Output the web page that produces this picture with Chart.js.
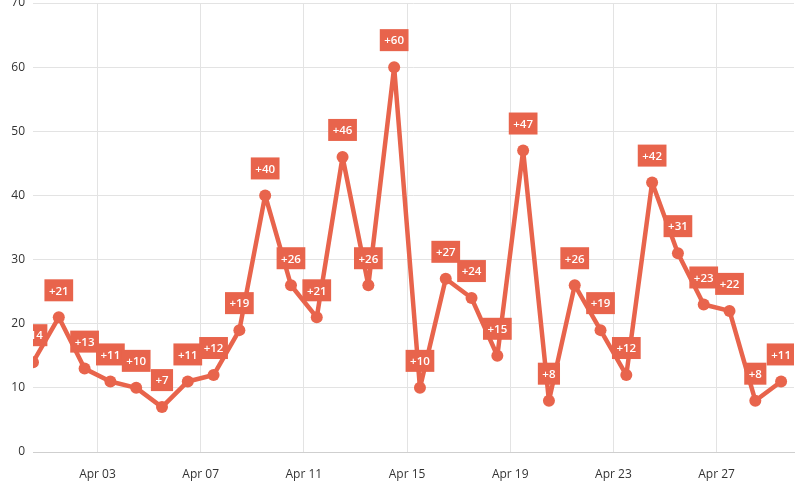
<!DOCTYPE html>
<html>
<head>
<meta charset="utf-8">
<script src="https://cdn.jsdelivr.net/npm/chart.js@4/dist/chart.umd.min.js"></script>
<style>
  html, body { margin: 0; padding: 0; background: #fff; overflow: hidden; }
  #wrap { position: absolute; left: 0; top: -3px; width: 800px; height: 503px; }
</style>
</head>
<body>
<div id="wrap"><canvas id="chart"></canvas></div>
<script>
// one point per day, placed at midday (Mar 31 12:00 .. Apr 29 12:00)
const days = [0.5, 1.5, 2.5, 3.5, 4.5, 5.5, 6.5, 7.5, 8.5, 9.5, 10.5, 11.5, 12.5, 13.5, 14.5,
              15.5, 16.5, 17.5, 18.5, 19.5, 20.5, 21.5, 22.5, 23.5, 24.5, 25.5, 26.5, 27.5, 28.5, 29.5];
const counts = [14, 21, 13, 11, 10, 7, 11, 12, 19, 40, 26, 21, 46, 26, 60,
                10, 27, 24, 15, 47, 8, 26, 19, 12, 42, 31, 23, 22, 8, 11];
const tickDays = [3, 7, 11, 15, 19, 23, 27];
const tickLabels = ["Apr 03", "Apr 07", "Apr 11", "Apr 15", "Apr 19", "Apr 23", "Apr 27"];

const red = '#e8644c';

// little red boxes with "+N" above each point
const boxLabels = {
  id: 'boxLabels',
  afterDatasetsDraw(chart) {
    const ctx = chart.ctx;
    const area = chart.chartArea;
    const meta = chart.getDatasetMeta(0);
    ctx.save();
    ctx.beginPath();
    ctx.rect(area.left, 0, area.right - area.left, chart.height);
    ctx.clip();
    ctx.font = '600 11.5px "Open Sans", sans-serif';
    ctx.textAlign = 'center';
    ctx.textBaseline = 'middle';
    meta.data.forEach((pt, i) => {
      const txt = '+' + counts[i];
      const w = ctx.measureText(txt).width + 9;
      const h = 22;
      const cx = pt.x, cy = pt.y - 27;
      ctx.fillStyle = red;
      ctx.fillRect(cx - w / 2, cy - h / 2, w, h);
      ctx.fillStyle = '#fff';
      ctx.fillText(txt, cx, cy + 1);
    });
    ctx.restore();
  }
};

new Chart(document.getElementById('chart'), {
  type: 'line',
  data: {
    datasets: [{
      data: days.map((d, i) => ({ x: d, y: counts[i] })),
      borderColor: red,
      backgroundColor: red,
      borderWidth: 4.5,
      borderJoinStyle: 'round',
      borderCapStyle: 'round',
      pointRadius: 6,
      pointBackgroundColor: red,
      pointBorderWidth: 0,
      tension: 0
    }]
  },
  options: {
    responsive: true,
    maintainAspectRatio: false,
    animation: false,
    layout: { padding: { left: 0, right: 3, top: 0, bottom: 0 } },
    plugins: { legend: { display: false }, tooltip: { enabled: false } },
    scales: {
      x: {
        type: 'linear',
        min: 0.5,
        max: 30,
        afterBuildTicks: (axis) => { axis.ticks = tickDays.map(v => ({ value: v })); },
        afterFit: (s) => { s.height = 48; s.paddingLeft = 0; s.paddingRight = 0; },
        ticks: {
          color: '#333',
          font: { family: 'Open Sans', size: 12 },
          padding: 15,
          maxRotation: 0,
          autoSkip: false,
          callback: (v) => tickLabels[tickDays.indexOf(v)]
        },
        grid: { color: '#e3e3e3', drawTicks: false },
        border: { color: '#cfcfcf', width: 1 }
      },
      y: {
        min: 0,
        max: 70,
        afterFit: (s) => { s.width = 33; s.paddingTop = 0; s.paddingBottom = 0; },
        ticks: {
          stepSize: 10,
          color: '#333',
          font: { family: 'Open Sans', size: 12 },
          padding: 8
        },
        grid: { color: '#e3e3e3', drawTicks: false },
        border: { display: false }
      }
    }
  },
  plugins: [boxLabels]
});
</script>
</body>
</html>
